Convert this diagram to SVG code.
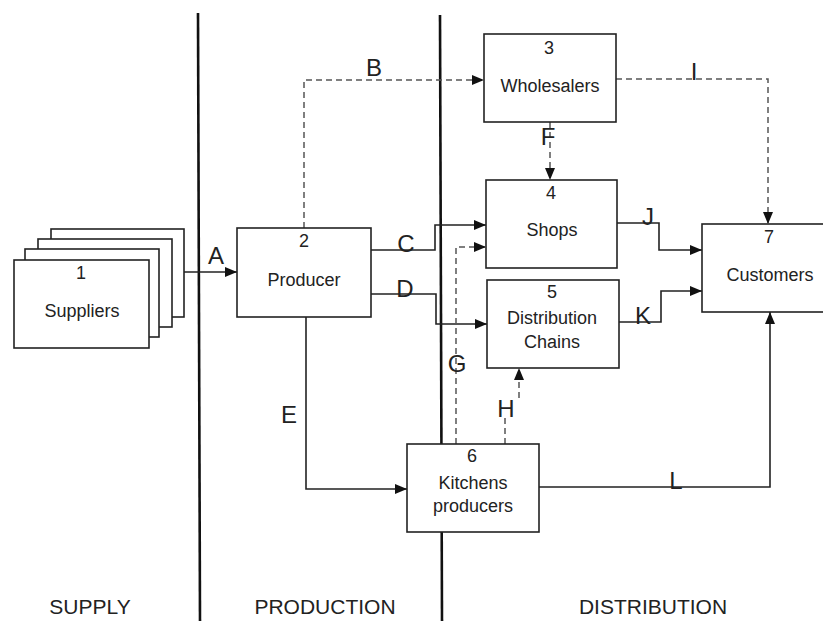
<svg xmlns="http://www.w3.org/2000/svg" width="823" height="621" viewBox="0 0 823 621">
<defs>
<marker id="ah" viewBox="0 0 12 10" refX="12" refY="5" markerWidth="12" markerHeight="10" markerUnits="userSpaceOnUse" orient="auto">
<path d="M0,0 L12,5 L0,10 Z" fill="#111"/>
</marker>
</defs>
<style>
.box{fill:#fff;stroke:#222;stroke-width:1.6}
.t{font-family:"Liberation Sans",Arial,sans-serif;font-size:18px;fill:#222;text-anchor:middle}
.lbl{font-family:"Liberation Sans",Arial,sans-serif;font-size:24px;fill:#222;text-anchor:middle}
.zone{font-family:"Liberation Sans",Arial,sans-serif;font-size:21px;fill:#222;text-anchor:middle}
.solid{fill:none;stroke:#222;stroke-width:1.6}
.dash{fill:none;stroke:#555;stroke-width:1.5;stroke-dasharray:6 4}
.div{stroke:#111;stroke-width:2.6}
</style>
<rect width="823" height="621" fill="#fff"/>
<g id="dividers">
<line class="div" x1="198" y1="13" x2="200" y2="621"/>
<line class="div" x1="440" y1="15" x2="442" y2="621"/>
</g>
<g id="zones">
<text class="zone" x="90" y="614">SUPPLY</text>
<text class="zone" x="325" y="614">PRODUCTION</text>
<text class="zone" x="653" y="614">DISTRIBUTION</text>
</g>
<g id="connectors">
<path class="solid" d="M184,272 H237" marker-end="url(#ah)"/>
<path class="dash" d="M304,228 V80 H484" marker-end="url(#ah)"/>
<path class="dash" d="M616,79 H768 V224" marker-end="url(#ah)"/>
<path class="dash" d="M550,122 V180" marker-end="url(#ah)"/>
<path class="solid" d="M371,250 H435 V225 H486" marker-end="url(#ah)"/>
<path class="solid" d="M371,294 H436 V324 H487" marker-end="url(#ah)"/>
<path class="dash" d="M456,444 V247 H486" marker-end="url(#ah)"/>
<path class="dash" d="M505,444 V414"/>
<path class="dash" d="M519,398 V368" marker-end="url(#ah)"/>
<path class="solid" d="M306,317 V489 H407" marker-end="url(#ah)"/>
<path class="solid" d="M617,223 H659 V250 H702" marker-end="url(#ah)"/>
<path class="solid" d="M619,322 H661 V291 H702" marker-end="url(#ah)"/>
<path class="solid" d="M539,487 H770 V312" marker-end="url(#ah)"/>
<text class="lbl" x="216" y="264">A</text>
<text class="lbl" x="374" y="76">B</text>
<text class="lbl" x="406" y="252">C</text>
<text class="lbl" x="405" y="297">D</text>
<text class="lbl" x="289" y="423">E</text>
<text class="lbl" x="548" y="145">F</text>
<text class="lbl" x="457" y="372">G</text>
<text class="lbl" x="506" y="417">H</text>
<text class="lbl" x="694" y="80">I</text>
<text class="lbl" x="648" y="225">J</text>
<text class="lbl" x="643" y="324">K</text>
<text class="lbl" x="676" y="489">L</text>
</g>
<g id="node1">
<rect class="box" x="51" y="229" width="133" height="88"/>
<rect class="box" x="38" y="239" width="134" height="88"/>
<rect class="box" x="25" y="249" width="134" height="88"/>
<rect class="box" x="14" y="260" width="135" height="88"/>
<text class="t" x="81" y="279">1</text>
<text class="t" x="82" y="317">Suppliers</text>
</g>
<g id="node2">
<rect class="box" x="237" y="228" width="134" height="89"/>
<text class="t" x="304" y="247">2</text>
<text class="t" x="304" y="286">Producer</text>
</g>
<g id="node3">
<rect class="box" x="484" y="34" width="132" height="88"/>
<text class="t" x="549" y="54">3</text>
<text class="t" x="550" y="92">Wholesalers</text>
</g>
<g id="node4">
<rect class="box" x="486" y="180" width="131" height="88"/>
<text class="t" x="551" y="199">4</text>
<text class="t" x="552" y="236">Shops</text>
</g>
<g id="node5">
<rect class="box" x="487" y="280" width="132" height="88"/>
<text class="t" x="552" y="298">5</text>
<text class="t" x="552" y="324">Distribution</text>
<text class="t" x="552" y="348">Chains</text>
</g>
<g id="node6">
<rect class="box" x="407" y="444" width="132" height="88"/>
<text class="t" x="472" y="462">6</text>
<text class="t" x="473" y="489">Kitchens</text>
<text class="t" x="473" y="512">producers</text>
</g>
<g id="node7">
<rect class="box" x="702" y="224" width="122" height="88"/>
<text class="t" x="769" y="243">7</text>
<text class="t" x="770" y="281">Customers</text>
</g>
</svg>
